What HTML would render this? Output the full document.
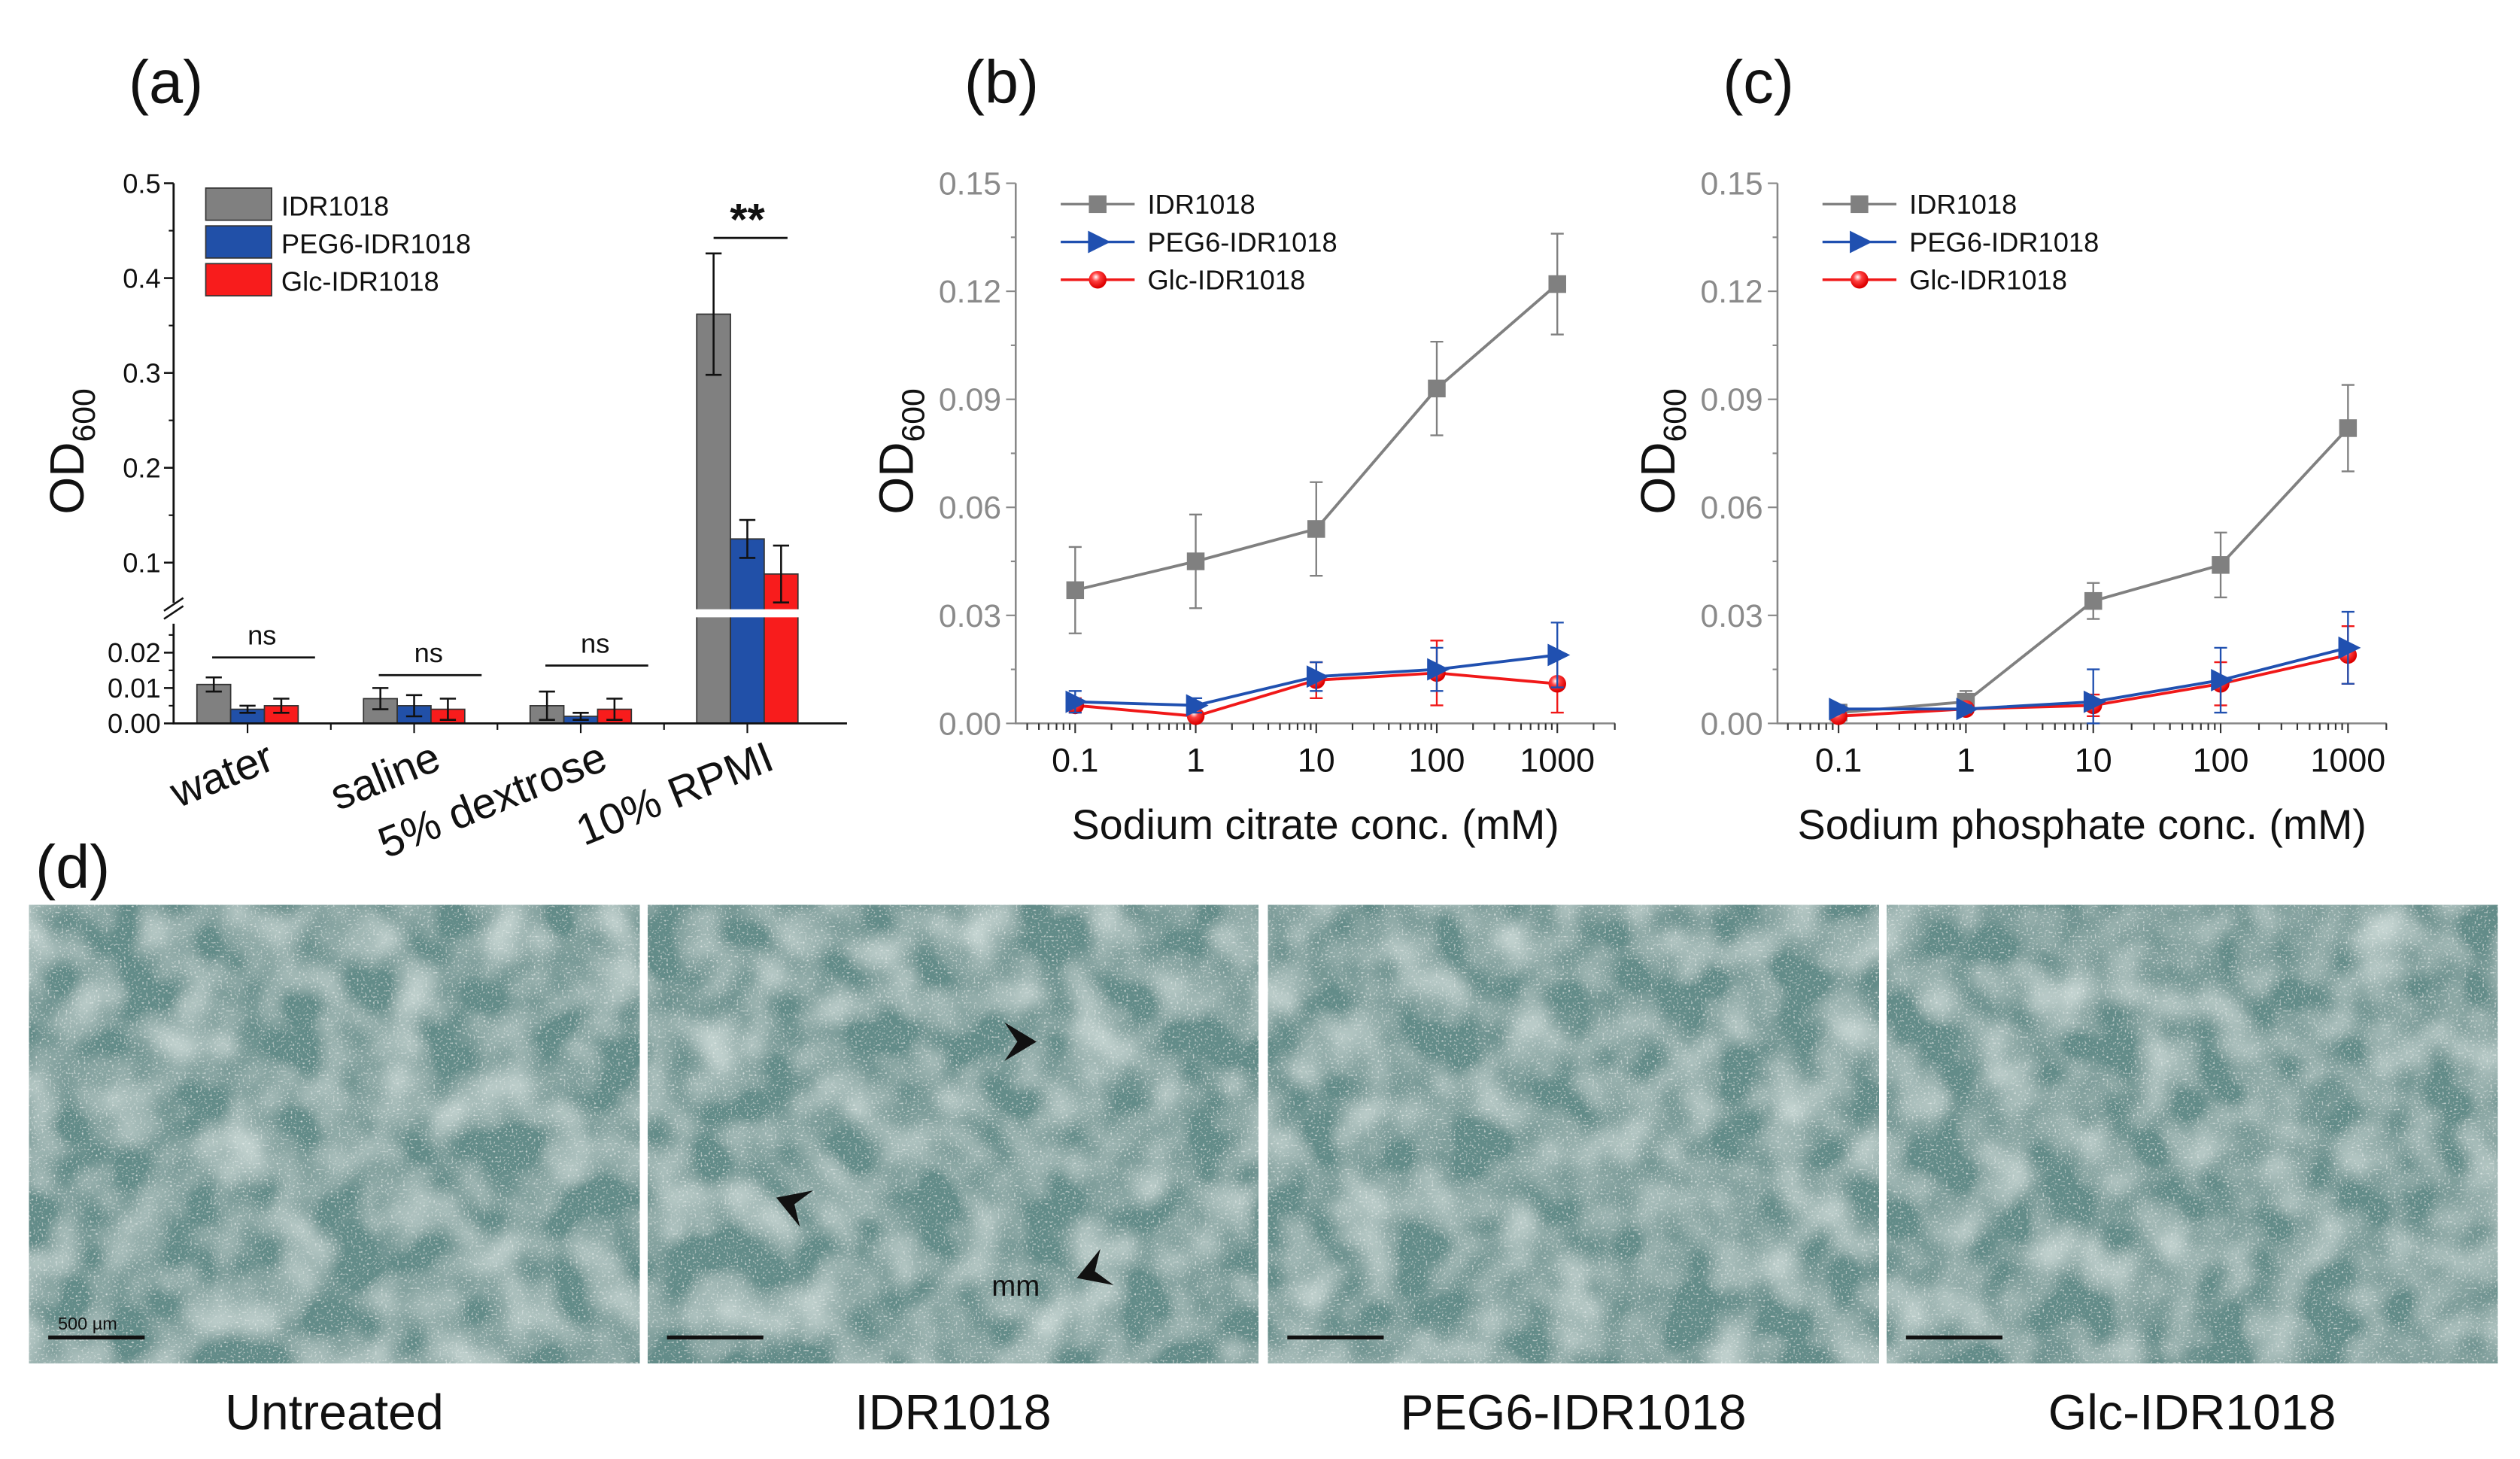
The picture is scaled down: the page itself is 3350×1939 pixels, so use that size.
<!DOCTYPE html>
<html><head><meta charset="utf-8"><style>
html,body{margin:0;padding:0;background:#fff;}
svg{display:block;font-family:"Liberation Sans",sans-serif;}
</style></head><body>
<svg id="fig" width="3350" height="1939" viewBox="0 0 1568 907.6" xmlns="http://www.w3.org/2000/svg">
<defs>
<filter id="cells" x="0" y="0" width="100%" height="100%">
<feTurbulence type="fractalNoise" baseFrequency="0.03" numOctaves="2" seed="3" result="big"/>
<feTurbulence type="fractalNoise" baseFrequency="0.8" numOctaves="1" seed="7" result="fine"/>
<feColorMatrix in="big" type="matrix" values="0 0 0 0 0.62  0 0 0 0 0.72  0 0 0 0 0.70  0 0 0 1.6 -0.55" result="blobs"/>
<feColorMatrix in="fine" type="matrix" values="0 0 0 0 0.85  0 0 0 0 0.9  0 0 0 0 0.88  0 0 0 3 -1.75" result="dots"/>
<feFlood flood-color="#648c89" result="bg"/>
<feMerge><feMergeNode in="bg"/><feMergeNode in="blobs"/><feMergeNode in="dots"/></feMerge>
</filter>
<radialGradient id="ball" cx="0.4" cy="0.35" r="0.6"><stop offset="0" stop-color="#fff"/><stop offset="0.4" stop-color="#ff4040"/><stop offset="1" stop-color="#d00"/></radialGradient>
</defs>
<g id="root"></g>
</svg>
<script>
// ---------- Panel (a) data ----------
const catsA = ["water","saline","5% dextrose","10% RPMI"];
const seriesA = ["IDR1018","PEG6-IDR1018","Glc-IDR1018"];
const idrA = [0.011,0.007,0.005,0.362];
const pegA = [0.004,0.005,0.002,0.125];
const glcA = [0.005,0.004,0.004,0.088];
const idrErrA = [0.002,0.003,0.004,0.064];
const pegErrA = [0.001,0.003,0.001,0.020];
const glcErrA = [0.002,0.003,0.003,0.030];
const upperTicksA = [0.1,0.2,0.3,0.4,0.5];
const lowerTicksA = [0.00,0.01,0.02];
// ---------- Panel (b) data ----------
const concB = [0.1,1,10,100,1000];
const idrB = [0.037,0.045,0.054,0.093,0.122];
const idrErrB = [0.012,0.013,0.013,0.013,0.014];
const pegB = [0.006,0.005,0.013,0.015,0.019];
const pegErrB = [0.003,0.002,0.004,0.006,0.009];
const glcB = [0.005,0.002,0.012,0.014,0.011];
const glcErrB = [0.002,0.001,0.005,0.009,0.008];
// ---------- Panel (c) data ----------
const concC = [0.1,1,10,100,1000];
const idrC = [0.003,0.006,0.034,0.044,0.082];
const idrErrC = [0.001,0.003,0.005,0.009,0.012];
const pegC = [0.004,0.004,0.006,0.012,0.021];
const pegErrC = [0.001,0.001,0.009,0.009,0.010];
const glcC = [0.002,0.004,0.005,0.011,0.019];
const glcErrC = [0.001,0.001,0.003,0.006,0.008];
const yTicksBC = [0,0.03,0.06,0.09,0.12,0.15];
const yTickLabelsBC = ["0.00","0.03","0.06","0.09","0.12","0.15"];
const xTickLabelsBC = ["0.1","1","10","100","1000"];

const NS="http://www.w3.org/2000/svg";
const root=document.getElementById('root');
function el(tag,attrs,parent,txt){const e=document.createElementNS(NS,tag);for(const k in attrs)e.setAttribute(k,attrs[k]);if(txt!==undefined)e.textContent=txt;(parent||root).appendChild(e);return e;}

// ---------- labels ----------
const labs=[["(a)",80,64],["(b)",600,64],["(c)",1072,64],["(d)",22,552]];
labs.forEach(l=>{const t=el('text',{x:l[1],y:l[2],'font-size':38,fill:'#111'},root,l[0]);

});

// ---------- Panel (a) ----------
const gA=el('g',{});


const aX0=108,aX1=527;
function yUp(v){return 350-(v-0.1)*590;}
function yLo(v){return 450-v*2200;}
function yA(v){return v>0.03?yUp(v):yLo(v);}
const centersA=catsA.map((c,i)=>154+i*(465-154)/3);
const colorsA=["#808080","#2150a8","#f81c1c"];
const valsA=[idrA,pegA,glcA], errsA=[idrErrA,pegErrA,glcErrA];
const bw=21;
catsA.forEach((c,i)=>{
  valsA.forEach((vals,s)=>{
    const x=centersA[i]+(s-1)*bw-bw/2;
    const v=vals[i];
    const top=yA(v);
    const r=el('rect',{x:x,y:top,width:bw,height:450-top,fill:colorsA[s],stroke:'#333','stroke-width':0.8},gA);
    
    
    const e=errsA[s][i];
    const cx=x+bw/2;
    const ep=el('path',{d:`M${cx},${yA(v+e)}V${yA(Math.max(v-e,0))}M${cx-5},${yA(v+e)}h10M${cx-5},${yA(Math.max(v-e,0))}h10`,stroke:'#111','stroke-width':1.2,fill:'none'},gA);
    
    
  });
});
el('rect',{x:aX0+1,y:379,width:aX1-aX0,height:5,fill:'#fff'},gA);
el('path',{d:`M${aX0},114V375M${aX0},388V450H${aX1}`,stroke:'#111','stroke-width':1.3,fill:'none'},gA);
el('path',{d:`M${aX0-6},385l12,-8M${aX0-6},380l12,-8`,stroke:'#111','stroke-width':1.2},gA);
upperTicksA.forEach(t=>{const y=yUp(t);el('line',{x1:aX0-6,x2:aX0,y1:y,y2:y,stroke:'#111','stroke-width':1.2},gA);
 const tl=el('text',{x:aX0-8,y:y+6,'font-size':17,'text-anchor':'end',fill:'#111'},gA,t.toFixed(1));
 
 
 const ym=yUp(t+0.05); if(t<0.5) el('line',{x1:aX0-3,x2:aX0,y1:ym,y2:ym,stroke:'#111'},gA);});
lowerTicksA.forEach(t=>{const y=yLo(t);el('line',{x1:aX0-6,x2:aX0,y1:y,y2:y,stroke:'#111','stroke-width':1.2},gA);
 const tl=el('text',{x:aX0-8,y:y+6,'font-size':17,'text-anchor':'end',fill:'#111'},gA,t.toFixed(2));
 
 
 const ym=yLo(t+0.005); el('line',{x1:aX0-3,x2:aX0,y1:ym,y2:ym,stroke:'#111'},gA);});
catsA.forEach((c,i)=>{
 el('line',{x1:centersA[i],x2:centersA[i],y1:450,y2:456,stroke:'#111'},gA);
 if(i<3){const b=(centersA[i]+centersA[i+1])/2;el('line',{x1:b,x2:b,y1:450,y2:454,stroke:'#111'},gA);}
 const lx=centersA[i]+18, ly=478;
 const t=el('text',{x:lx,y:ly,'font-size':27,'text-anchor':'end',fill:'#111',transform:`rotate(-22 ${lx} ${ly})`},gA,c);
 
 
});
const yt=el('text',{x:0,y:0,'font-size':30,fill:'#111',transform:'translate(52,320) rotate(-90)'},gA);
yt.innerHTML='OD<tspan font-size="20" dy="7">600</tspan>';


[[0,395,409],[1,406,420],[2,400,414]].forEach(s=>{const c=centersA[s[0]];
 el('line',{x1:c-22,x2:c+42,y1:s[2],y2:s[2],stroke:'#111','stroke-width':1.3},gA);
 el('text',{x:c+9,y:s[1]+6,'font-size':17,'text-anchor':'middle',fill:'#111'},gA,'ns');});
el('line',{x1:444,x2:490,y1:148,y2:148,stroke:'#111','stroke-width':1.3},gA);
el('text',{x:465,y:146,'font-size':28,'text-anchor':'middle','font-weight':'bold',fill:'#111'},gA,'**');
seriesA.forEach((s,i)=>{const y=117+i*23.5;
 el('rect',{x:128,y:y,width:41,height:20,fill:colorsA[i],stroke:'#333','stroke-width':0.8},gA);
 const t=el('text',{x:175,y:y+17,'font-size':17,fill:'#111'},gA,s);
 
 });

// ---------- line charts ----------
function lineChart(opts){
 const g=el('g',{});
 
 
 const X=v=>opts.x01+(Math.log10(v)+1)*opts.dec;
 const Y=v=>450-v*(336/0.15);
 el('path',{d:`M${opts.ax},114V450H${opts.ax1}`,stroke:'#888','stroke-width':1.2,fill:'none'},g);
 yTicksBC.forEach((t,i)=>{const y=Y(t);el('line',{x1:opts.ax-6,x2:opts.ax,y1:y,y2:y,stroke:'#888'},g);
  if(i<5){const ym=Y(t+0.015);el('line',{x1:opts.ax-3,x2:opts.ax,y1:ym,y2:ym,stroke:'#888'},g);}
  const tl=el('text',{x:opts.ax-9,y:y+7,'font-size':20,'text-anchor':'end',fill:'#8a8a8a'},g,yTickLabelsBC[i]);
  
  });
 for(let d=-2;d<=3;d++){for(let m=1;m<10;m++){const v=m*Math.pow(10,d);const x=X(v);if(x<opts.ax||x>opts.ax1)continue;
  el('line',{x1:x,x2:x,y1:450,y2:m==1?456:454,stroke:'#333'},g);}}
 xTickLabelsBC.forEach((l,i)=>{const x=X(opts.conc[i]);
  const tl=el('text',{x:x,y:480,'font-size':21,'text-anchor':'middle',fill:'#111'},g,l);
  
  });
 const xt=el('text',{x:(opts.ax+opts.ax1)/2,y:522,'font-size':26,'text-anchor':'middle',fill:'#111'},g,opts.xtitle);
 
 
 const yt=el('text',{x:0,y:0,'font-size':30,fill:'#111',transform:`translate(${opts.ax-64},320) rotate(-90)`},g);
 yt.innerHTML='OD<tspan font-size="20" dy="7">600</tspan>';
 
 
 const ser=[[opts.idr,opts.idrErr,'#808080','sq'],[opts.glc,opts.glcErr,'#f01818','ball'],[opts.peg,opts.pegErr,'#2050b0','tri']];
 ser.forEach(s=>{
  const d=opts.conc.map((c,i)=>(i?'L':'M')+X(c)+','+Y(s[0][i])).join('');
  const p=el('path',{d:d,stroke:s[2],'stroke-width':1.8,fill:'none'},g);
  
  
  opts.conc.forEach((c,i)=>{const x=X(c),v=s[0][i],e=s[1][i];
   el('path',{d:`M${x},${Y(v+e)}V${Y(Math.max(v-e,0))}M${x-4},${Y(v+e)}h8M${x-4},${Y(Math.max(v-e,0))}h8`,stroke:s[2],'stroke-width':1.1,fill:'none'},g);
   marker(g,s[3],x,Y(v),s[2]);});
 });
 [['IDR1018','sq','#808080'],['PEG6-IDR1018','tri','#2050b0'],['Glc-IDR1018','ball','#f01818']].forEach((l,i)=>{
  const y=127+i*23.5, lx=opts.ax+28;
  el('line',{x1:lx,x2:lx+46,y1:y,y2:y,stroke:l[2],'stroke-width':1.6},g);
  marker(g,l[1],lx+23,y,l[2]);
  const t=el('text',{x:lx+54,y:y+6,'font-size':17,fill:'#111'},g,l[0]);
  
  });
}
function marker(g,t,x,y,c){
 if(t=='sq') el('rect',{x:x-5.5,y:y-5.5,width:11,height:11,fill:c},g);
 else if(t=='tri') el('path',{d:`M${x-6},${y-7}L${x+8},${y}L${x-6},${y+7}Z`,fill:c},g);
 else el('circle',{cx:x,cy:y,r:5.5,fill:'url(#ball)'},g);
}
lineChart({name:'line-chart-b',ax:632,ax1:1005,x01:669,dec:75,conc:concB,idr:idrB,idrErr:idrErrB,peg:pegB,pegErr:pegErrB,glc:glcB,glcErr:glcErrB,xtitle:'Sodium citrate conc. (mM)'});
lineChart({name:'line-chart-c',ax:1106,ax1:1485,x01:1144,dec:79.25,conc:concC,idr:idrC,idrErr:idrErrC,peg:pegC,pegErr:pegErrC,glc:glcC,glcErr:glcErrC,xtitle:'Sodium phosphate conc. (mM)'});

// ---------- Panel (d) images ----------
const imgs=[[18,'Untreated'],[403,'IDR1018'],[789,'PEG6-IDR1018'],[1174,'Glc-IDR1018']];
imgs.forEach((m,i)=>{
 const g=el('g',{});
 
 
 el('rect',{x:m[0],y:563,width:380,height:285,fill:'#6f9290',filter:'url(#cells)'},g);
 el('line',{x1:m[0]+12,x2:m[0]+72,y1:832,y2:832,stroke:'#111','stroke-width':2.5},g);
 if(i==0) el('text',{x:m[0]+18,y:827,'font-size':11,fill:'#111'},g,'500 µm');
 const t=el('text',{x:m[0]+190,y:889,'font-size':31,'text-anchor':'middle',fill:'#111'},g,m[1]);
 
 
});
[[645,648,0],[483,745,200],[670,795,160]].forEach(a=>{
 const p=el('path',{d:'M0,0L-20,-12L-12,0L-20,12Z',fill:'#111',transform:`translate(${a[0]},${a[1]}) rotate(${a[2]})`});
 
 });
el('text',{x:617,y:806,'font-size':18,fill:'#111'},root,'mm');
</script>
</body></html>
